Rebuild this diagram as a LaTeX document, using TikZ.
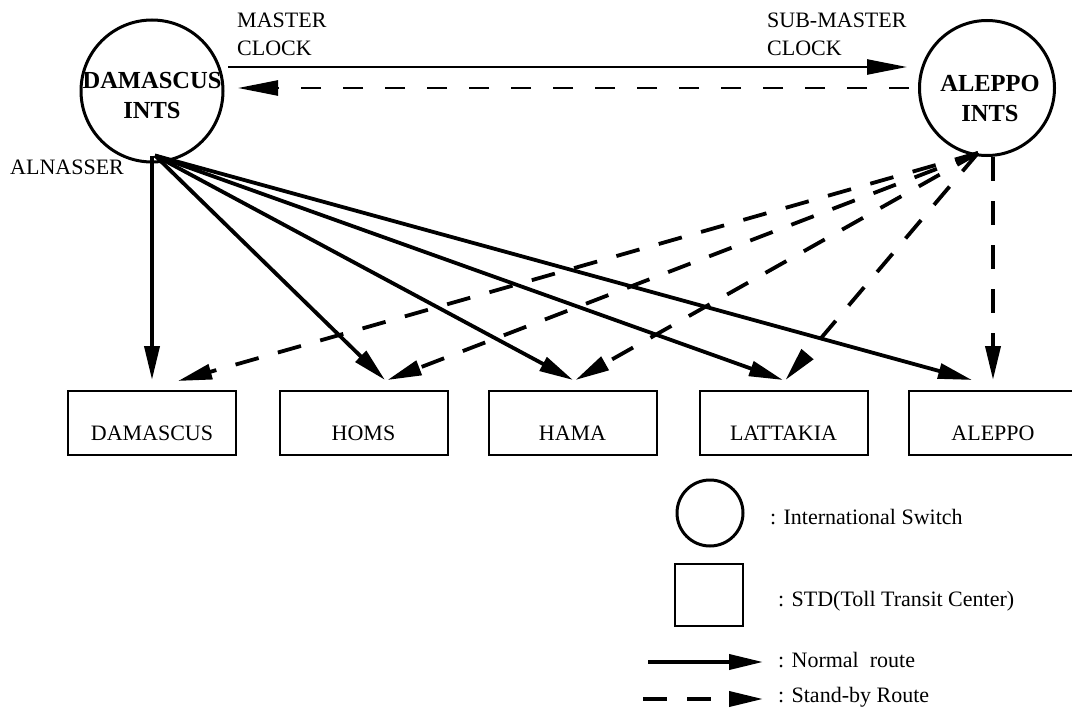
\documentclass[tikz,border=0pt]{standalone}
\usepackage{fontspec}
\setmainfont{Liberation Serif}
\usetikzlibrary{arrows.meta,calc}

\begin{document}
\begin{tikzpicture}[x=1pt,y=-1pt,
  switch/.style={circle,draw,line width=3pt,minimum size=#1,inner sep=0pt},
  switchtext/.style={inner sep=0pt,align=center,font=\bfseries\fontsize{24.5}{30}\selectfont},
  stdbox/.style={rectangle,draw,line width=2pt,minimum width=168pt,minimum height=64pt,
    inner sep=0pt,text height=34pt,text depth=0pt,font=\fontsize{22}{26}\selectfont},
  lbl/.style={inner sep=0pt,anchor=west,font=\fontsize{22}{26}\selectfont},
  normal/.style={line width=3.8pt,-{Triangle[length=34pt,width=15pt]}},
  standby/.style={normal,dash pattern=on 24pt off 20pt},
  clockline/.style={line width=2.5pt,-{Triangle[length=40pt,width=15pt]}},
  clockdash/.style={clockline,dash pattern=on 20pt off 22pt},
]
\useasboundingbox (0,0) rectangle (1072,712);

% international switches
\node[switch=142pt] (dam) at (152,91) {};
\node[switchtext] (damtxt) at (152,96) {DAMASCUS\\INTS};
\node[switch=135pt] (ale) at (987,88) {};
\node[switchtext] (aletxt) at (990,99) {ALEPPO\\INTS};

% clock labels
\node[lbl] (mst)  at (237,20) {MASTER};
\node[lbl] (mclk) at (237,48) {CLOCK};
\node[lbl] (smst) at (767,20) {SUB-MASTER};
\node[lbl] (sclk) at (767,48) {CLOCK};
\node[lbl] (alnasser) at (10,167) {ALNASSER};

% toll transit centres
\node[stdbox] (dbox) at (152,423) {DAMASCUS};
\node[stdbox] (homs) at (363.5,423) {HOMS};
\node[stdbox] (hama) at (572.5,423) {HAMA};
\node[stdbox] (latt) at (783.5,423) {LATTAKIA};
\node[stdbox] (abox) at (993,423) {ALEPPO};

% clock links between the switches
\draw[clockline] ($(dam.center)+(76,-24)$) -- ($(ale.center)+(-80,-21)$);
\draw[clockdash] ($(ale.center)+(-78,0)$) -- ($(dam.center)+(86,-3)$);

% normal routes from Damascus
\coordinate (dfoot) at ($(dam.south)+(3,-8)$);
\draw[normal] (dbox.north |- dfoot) -- ($(dbox.north)+(0,-10)$);
\draw[normal] (dfoot) -- ($(homs.north)+(21.5,-10)$);
\draw[normal] (dfoot) -- ($(hama.north)+(0.5,-10)$);
\draw[normal] (dfoot) -- ($(latt.north)+(-0.5,-10)$);
\draw[normal] (dfoot) -- ($(abox.north)+(-21,-10)$);

% stand-by routes from Aleppo
\coordinate (afoot) at ($(ale.south)+(-9,-4)$);
\draw[standby] (afoot) -- ($(dbox.north)+(26,-9)$);
\draw[standby] (afoot) -- ($(homs.north)+(24,-10)$);
\draw[standby] (afoot) -- ($(hama.north)+(3,-10)$);
\draw[standby] (afoot) -- ($(latt.north)+(2,-10)$);
\draw[standby] (abox.north |- ale.south) -- ($(abox.north)+(0,-10)$);

% legend
\node[switch=66pt] (lsw) at (710,513) {};
\node[lbl] (lswt) at (770,517) {: International Switch};
\node[draw,line width=2pt,minimum width=68pt,minimum height=62pt,inner sep=0pt] (lstd) at (709,595) {};
\node[lbl] (lstdt) at (778,601) {: STD(Toll Transit Center)};
\coordinate (ln0) at (648,662);
\coordinate (ln1) at (763,662);
\draw[normal] (ln0) -- (ln1);
\node[lbl] (lnt) at (778,660) {: Normal\ \ route};
\coordinate (ls0) at (643,699);
\coordinate (ls1) at (763,699);
\draw[standby] (ls0) -- (ls1);
\node[lbl] (lst) at (778,697) {: Stand-by Route};
\end{tikzpicture}
\end{document}
